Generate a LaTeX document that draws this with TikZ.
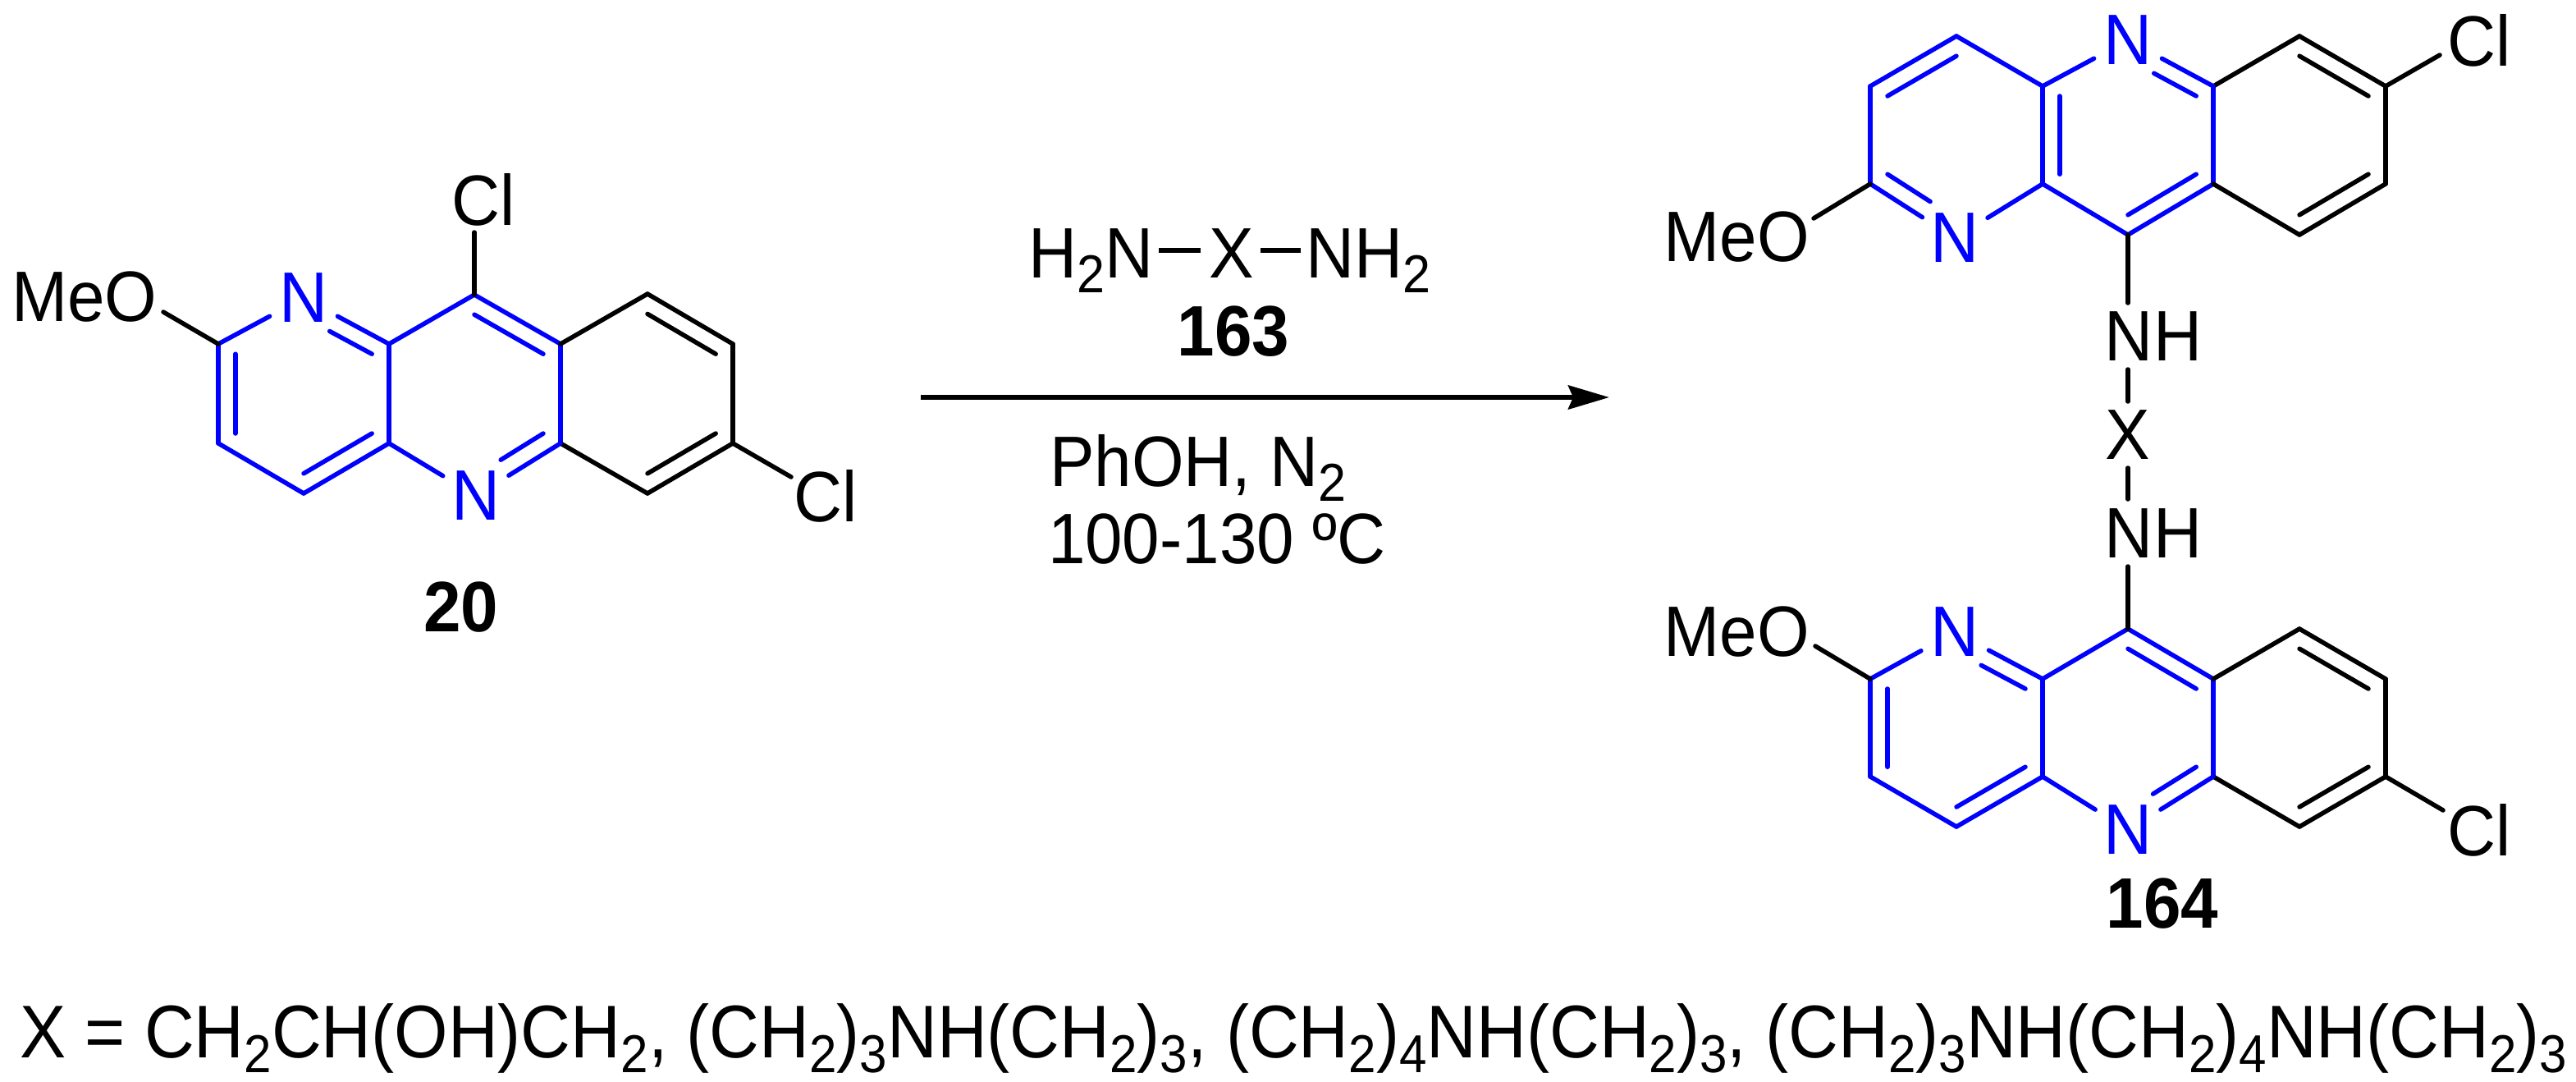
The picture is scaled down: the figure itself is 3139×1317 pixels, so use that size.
\documentclass[tikz,border=0pt]{standalone}
\usepackage{fontspec}
\setmainfont[FakeStretch=0.94]{Liberation Sans}
\newfontfamily\deffont[FakeStretch=0.925]{Liberation Sans}
\usetikzlibrary{calc,arrows.meta}
\definecolor{ringblue}{RGB}{0,0,255}
\newcommand\chemsub[1]{\raisebox{-18pt}{\fontsize{65}{65}\selectfont #1}}
% inner line of a double bond: #1 extra options, #2 style, #3 #4 atoms, #5 ring centre
\newcommand\inbond[5][]{\draw[#2,#1] ($(#3)!.2!(#5)$) -- ($(#4)!.2!(#5)$);}
% ring pattern shared by the left and bottom molecules
\newcommand\molA[1]{%
  \foreach \p/\q in {a/b,b/c,c/d,d/e,e/f,f/g,g/h} \draw[bondb] (#1\p) -- (#1\q);
  \foreach \p/\q in {g/i,i/j,j/k,k/l,l/h} \draw[bondk] (#1\p) -- (#1\q);
  \draw[bondb,shorten >=47pt] (#1a) -- (#1N1.center);
  \draw[bondb,shorten >=47pt] (#1e) -- (#1N1.center);
  \draw[bondb,shorten >=47pt] (#1d) -- (#1N2.center);
  \draw[bondb,shorten >=47pt] (#1h) -- (#1N2.center);
  \inbond{bondb}{#1a}{#1b}{#1A}
  \inbond{bondb}{#1c}{#1d}{#1A}
  \inbond[shorten <=36pt]{bondb}{#1N1.center}{#1e}{#1A}
  \inbond{bondb}{#1f}{#1g}{#1B}
  \inbond[shorten <=36pt]{bondb}{#1N2.center}{#1h}{#1B}
  \inbond{bondk}{#1i}{#1j}{#1C}
  \inbond{bondk}{#1k}{#1l}{#1C}
}
\tikzset{
  txt/.style={inner sep=0pt,outer sep=0pt,font=\fontsize{87}{95}\selectfont},
  boldtxt/.style={inner sep=0pt,outer sep=0pt,font=\fontsize{87}{95}\selectfont\bfseries},
  deftxt/.style={inner sep=0pt,outer sep=0pt,font=\deffont\fontsize{91}{99}\selectfont},
  bondb/.style={draw=ringblue,line width=5.5pt,line cap=round,line join=round},
  bondk/.style={draw=black,line width=5.5pt,line cap=round,line join=round},
  rxnarrow/.style={draw=black,line width=6pt,-{Stealth[length=50pt,width=29pt,inset=6pt]}}
}
\begin{document}
\begin{tikzpicture}[x=1pt,y=-1pt]
\useasboundingbox (0,0) rectangle (3139,1317);
% ---------- left molecule 20
\foreach \n/\x/\y in {a/266/419,b/266/540,c/370/601,d/474/540,e/474/419,f/578/359,g/683/419,h/683/540,i/789/358,j/893/419,k/893/540,l/789/601,A/370/480,B/578/480,C/789/480}
  \coordinate (L\n) at (\x,\y);
\node[txt,text=ringblue] (LN1) at (370,363) {N};
\node[txt,text=ringblue] (LN2) at (580,604) {N};
\node[txt] (LMeO) at (103,362) {MeO};
\node[txt] (LCl1) at (589,243) {Cl};
\node[txt] (LCl2) at (1006,604) {Cl};
\node[boldtxt,anchor=base] (L20) at (562,769) {20};
\coordinate (LOe) at (199,380);
\coordinate (LCe1) at (578,283);
\coordinate (LCe2) at (964,581);
\molA{L}
\draw[bondk] (La) -- (LOe);
\draw[bondk] (Lf) -- (LCe1);
\draw[bondk] (Lk) -- (LCe2);
% ---------- reaction arrow and labels
\coordinate (AS) at (1122,484);
\coordinate (AE) at (1961,484);
\draw[rxnarrow] (AS) -- (AE);
\node[txt,anchor=base west] (R1) at (1253,338) {H\chemsub{2}N};
\node[txt,anchor=base] (RX) at (1501,338) {X};
\node[txt,anchor=base west] (R2) at (1591,338) {NH\chemsub{2}};
\coordinate (Rd1) at (1412,305);
\coordinate (Rd2) at (1463,305);
\coordinate (Rd3) at (1536,305);
\coordinate (Rd4) at (1585,305);
\draw[draw=black,line width=5.5pt] (Rd1) -- (Rd2);
\draw[draw=black,line width=5.5pt] (Rd3) -- (Rd4);
\node[boldtxt,anchor=base] (R163) at (1503,433) {163};
\node[txt,anchor=base west] (RS) at (1279,592) {PhOH, N\chemsub{2}};
\node[txt,anchor=base west] (RT) at (1277,686) {100-130 ºC};
% ---------- top molecule
\foreach \n/\x/\y in {a/2279/224,b/2279/105,c/2384/44,d/2489/105,e/2489/224,f/2593/286,g/2697/224,h/2697/105,i/2802/286,j/2907/224,k/2907/105,l/2802/44,A/2384/165,B/2593/165,C/2802/165}
  \coordinate (T\n) at (\x,\y);
\node[txt,text=ringblue] (TN1) at (2382,290) {N};
\node[txt,text=ringblue] (TN2) at (2593,49) {N};
\node[txt] (TMeO) at (2116,289) {MeO};
\node[txt] (TCl) at (3021,49) {Cl};
\foreach \p/\q in {a/b,b/c,c/d,d/e,e/f,f/g,g/h} \draw[bondb] (T\p) -- (T\q);
\foreach \p/\q in {g/i,i/j,j/k,k/l,l/h} \draw[bondk] (T\p) -- (T\q);
\draw[bondb,shorten >=47pt] (Ta) -- (TN1.center);
\draw[bondb,shorten >=47pt] (Te) -- (TN1.center);
\draw[bondb,shorten >=47pt] (Td) -- (TN2.center);
\draw[bondb,shorten >=47pt] (Th) -- (TN2.center);
\inbond[shorten >=36pt]{bondb}{Ta}{TN1.center}{TA}
\inbond{bondb}{Tb}{Tc}{TA}
\inbond{bondb}{Td}{Te}{TB}
\inbond[shorten <=36pt]{bondb}{TN2.center}{Th}{TB}
\inbond{bondb}{Tf}{Tg}{TB}
\inbond{bondk}{Tk}{Tl}{TC}
\inbond{bondk}{Ti}{Tj}{TC}
\coordinate (TOe) at (2210,266);
\coordinate (TCe) at (2973,67);
\draw[bondk] (Ta) -- (TOe);
\draw[bondk] (Tk) -- (TCe);
% ---------- linker
\node[txt] (NH1) at (2624,410) {NH};
\node[txt] (XL) at (2593,530) {X};
\node[txt] (NH2) at (2624,650) {NH};
\coordinate (Tn) at (2593,369);
\coordinate (D1a) at (2593,450);
\coordinate (D1b) at (2593,489);
\coordinate (D2a) at (2593,570);
\coordinate (D2b) at (2593,608);
\coordinate (Bn) at (2593,690);
\draw[bondk] (Tf) -- (Tn);
\draw[bondk] (D1a) -- (D1b);
\draw[bondk] (D2a) -- (D2b);
% ---------- bottom molecule
\foreach \n/\x/\y in {a/2279/827,b/2279/946,c/2384/1007,d/2489/946,e/2489/827,f/2593/766,g/2697/827,h/2697/946,i/2802/766,j/2907/827,k/2907/946,l/2802/1007,A/2384/887,B/2593/887,C/2802/887}
  \coordinate (B\n) at (\x,\y);
\node[txt,text=ringblue] (BN1) at (2382,770) {N};
\node[txt,text=ringblue] (BN2) at (2593,1011) {N};
\node[txt] (BMeO) at (2116,770) {MeO};
\node[txt] (BCl) at (3021,1011) {Cl};
\node[boldtxt,anchor=base] (B164) at (2635,1130) {164};
\molA{B}
\coordinate (BOe) at (2212,787);
\coordinate (BCe) at (2977,987);
\draw[bondk] (Ba) -- (BOe);
\draw[bondk] (Bk) -- (BCe);
\draw[bondk] (Bf) -- (Bn);
% ---------- definition of X
\node[deftxt,anchor=base west] (DEF) at (24,1288) {X = CH\chemsub{2}CH(OH)CH\chemsub{2}, (CH\chemsub{2})\chemsub{3}NH(CH\chemsub{2})\chemsub{3}, (CH\chemsub{2})\chemsub{4}NH(CH\chemsub{2})\chemsub{3}, (CH\chemsub{2})\chemsub{3}NH(CH\chemsub{2})\chemsub{4}NH(CH\chemsub{2})\chemsub{3}};
\end{tikzpicture}
\end{document}
